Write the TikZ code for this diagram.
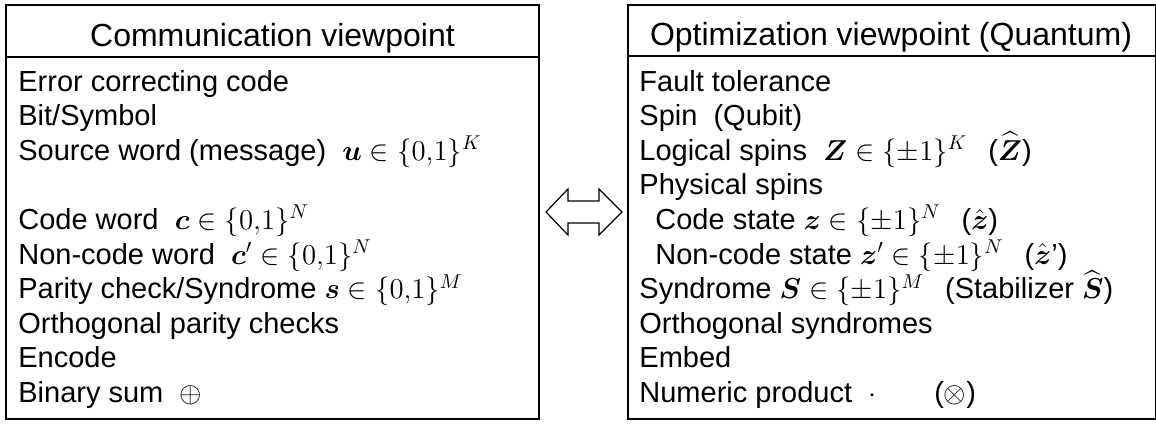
\documentclass[tikz,border=0pt]{standalone}
\usepackage{amsmath}
\usepackage{fontspec}
\setmainfont{Liberation Sans}
\usetikzlibrary{positioning}

\begin{document}
\begin{tikzpicture}[x=0.5pt,y=-0.5pt,
  every node/.style={inner sep=0pt, anchor=base west, font=\fontsize{14.5}{17.5}\selectfont},
  head/.style={anchor=base, font=\fontsize{16}{19}\selectfont},
  panel/.style={draw, line width=0.85pt}]
  \useasboundingbox (0,0) rectangle (1156,424);

  % communication side
  \draw[panel] (6,5) rectangle (539,419);
  \draw[panel] (6,57) -- (539,57);
  \node[head] (comhead) at (272.5,46) {Communication viewpoint};
  \node (ecc) at (18,91) {Error correcting code};
  \node (bit) at (18,125.6) {Bit/Symbol};
  \node (src) at (18,160.2) {Source word (message)\ \ $\boldsymbol{u}\in\{0{,}1\}^K$};
  \node (cw) at (18,229.4) {Code word\ \ $\boldsymbol{c}\in\{0{,}1\}^N$};
  \node (ncw) at (18,264) {Non-code word\ \ $\boldsymbol{c}'\in\{0{,}1\}^N$};
  \node (par) at (18,298.6) {Parity check/Syndrome $\boldsymbol{s}\in\{0{,}1\}^M$};
  \node (orth) at (18,333.2) {Orthogonal parity checks};
  \node (enc) at (18,367.8) {Encode};
  \node (bsum) at (18,402.4) {Binary sum\ \ $\oplus$};

  % optimization side
  \draw[panel] (628,5) rectangle (1156,419);
  \draw[panel] (628,56) -- (1156,56);
  \node[head] (opthead) at (891,45) {Optimization viewpoint (Quantum)};
  \node (ft) at (639,91) {Fault tolerance};
  \node (spin) at (639,125.6) {Spin\ \ (Qubit)};
  \node (log) at (639,160.2) {Logical spins\ \ $\boldsymbol{Z}\in\{\pm1\}^K$\ \ \,($\widehat{\boldsymbol{Z}}$)};
  \node (phys) at (639,194.8) {Physical spins};
  \node (cs) at (655,229.4) {Code state $\boldsymbol{z}\in\{\pm1\}^N$\ \ \,($\hat{\boldsymbol{z}}$)};
  \node (ncs) at (655,264) {Non-code state $\boldsymbol{z}'\in\{\pm1\}^N$\ \ \,($\hat{\boldsymbol{z}}$’)};
  \node (syn) at (639,298.6) {Syndrome $\boldsymbol{S}\in\{\pm1\}^M$\ \ \,(Stabilizer $\widehat{\boldsymbol{S}}$)};
  \node (osyn) at (639,333.2) {Orthogonal syndromes};
  \node (emb) at (639,367.8) {Embed};
  \node (nprod) at (639,402.4) {Numeric product\ \ $\cdot$\qquad($\otimes$)};

  % correspondence arrow
  \draw[line width=0.6pt] (546,212) -- (568,189) -- (568,201) -- (599,201)
    -- (599,189) -- (622,212) -- (599,235) -- (599,223) -- (568,223)
    -- (568,235) -- cycle;
\end{tikzpicture}
\end{document}
